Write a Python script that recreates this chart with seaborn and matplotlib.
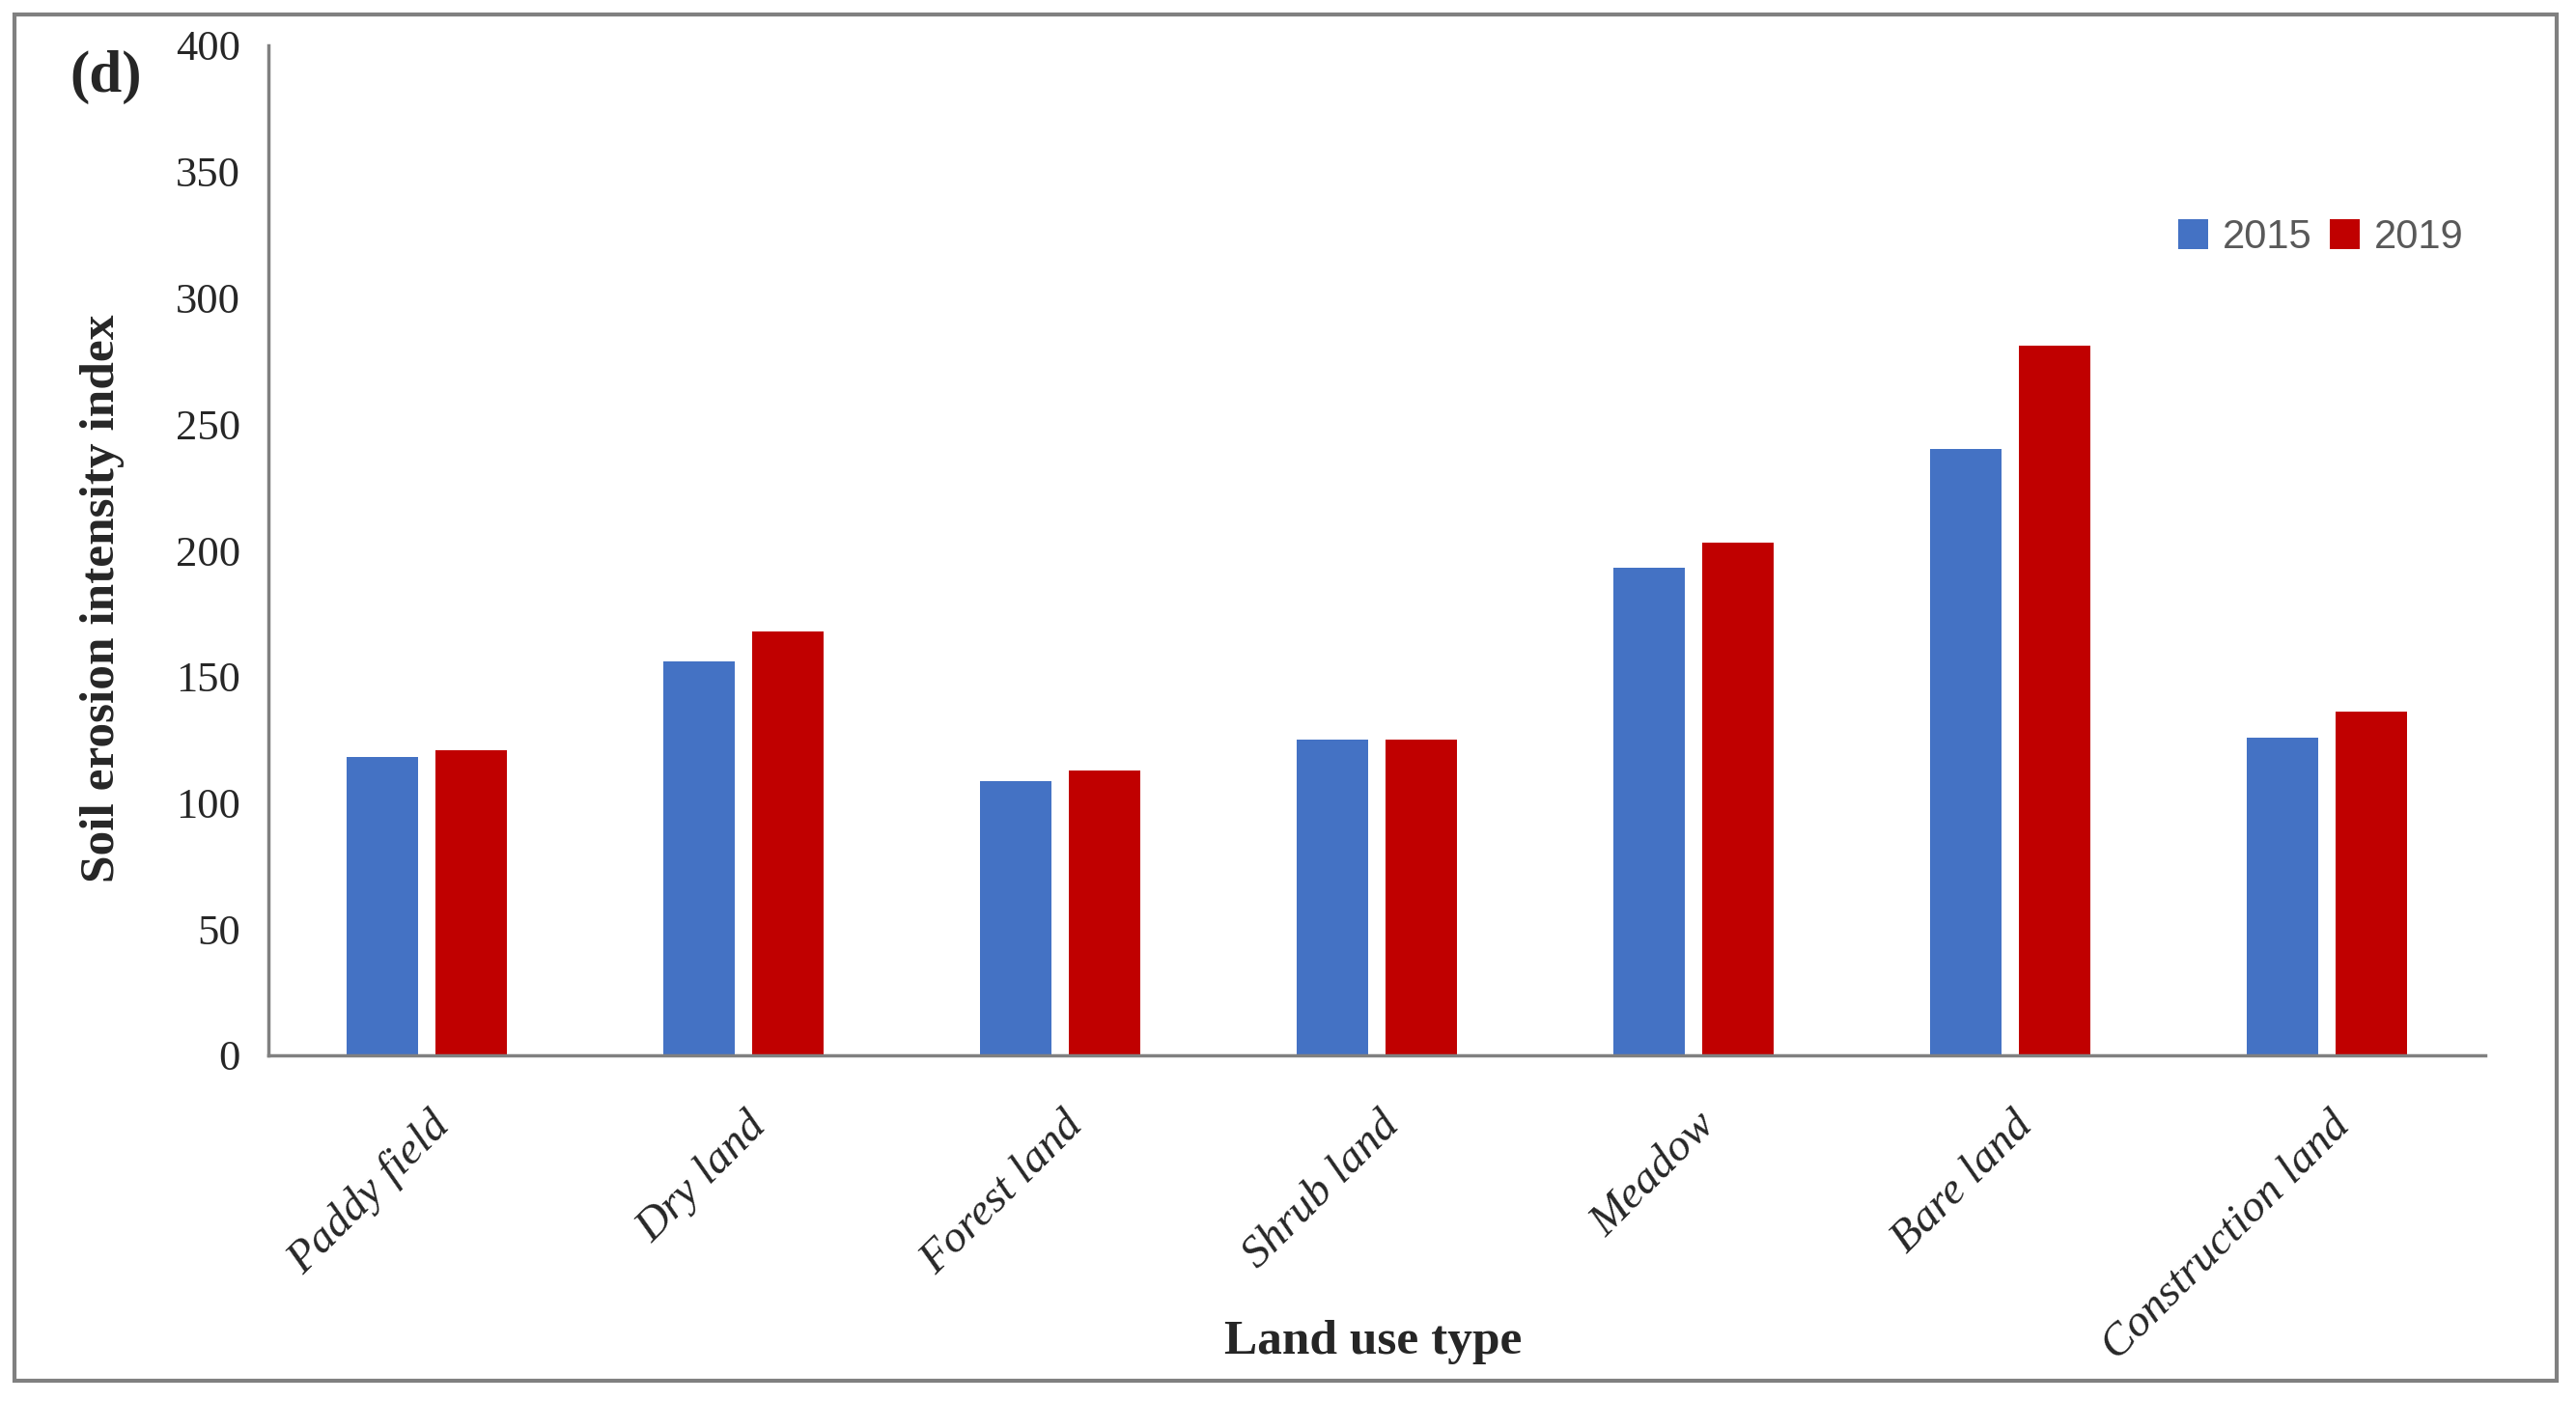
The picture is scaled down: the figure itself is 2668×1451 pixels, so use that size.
import pandas as pd
import numpy as np
import matplotlib
matplotlib.use("Agg")
import matplotlib.pyplot as plt
import matplotlib.transforms as mtransforms
from matplotlib.patches import Patch, Rectangle
import seaborn as sns

# values
land_types = ["Paddy field", "Dry land", "Forest land", "Shrub land",
              "Meadow", "Bare land", "Construction land"]
years = ["2015", "2019"]
values_2015 = [118, 156, 108.5, 125, 193, 240, 126]
values_2019 = [121, 168, 113, 125, 203, 281, 136]
y_ticks = list(range(0, 401, 50))
colors = ["#4472C4", "#C00000"]

df = pd.DataFrame({
    "land": land_types * 2,
    "year": [years[0]] * len(land_types) + [years[1]] * len(land_types),
    "value": values_2015 + values_2019,
})

sns.set_style("white")
plt.rcParams["font.family"] = ["Liberation Serif", "DejaVu Serif"]

W, H = 2668, 1451
fig = plt.figure(figsize=(W / 100, H / 100), dpi=100)
ax = fig.add_axes([278 / W, 1 - 1093 / H, (2574 - 278) / W, (1093 - 47) / H])

sns.barplot(data=df, x="land", y="value", hue="year", palette=colors,
            width=0.56, gap=0.2, saturation=1, legend=False, ax=ax,
            edgecolor="none")

ax.set_xlim(-0.5, len(land_types) - 0.5)
ax.set_ylim(0, 400)
ax.set_yticks(y_ticks)
ax.set_xlabel("")
ax.set_ylabel("")

grey = "#808080"
for side in ["top", "right"]:
    ax.spines[side].set_visible(False)
for side in ["left", "bottom"]:
    ax.spines[side].set_color(grey)
    ax.spines[side].set_linewidth(2.5)

# separators between categories
ax.set_xticks(np.arange(-0.5, len(land_types), 1.0), minor=True)
ax.tick_params(axis="x", which="minor", length=14.5, width=2.4, color=grey, direction="out")
ax.tick_params(axis="x", which="major", length=0, pad=37)
ax.tick_params(axis="y", length=13, width=2.4, color=grey, pad=8, labelsize=32)

ax.set_xticks(range(len(land_types)))
ax.set_xticklabels(land_types, rotation=45, ha="right", rotation_mode="anchor",
                   fontstyle="italic", fontsize=34)
shift = mtransforms.ScaledTranslation(0.02, 0, fig.dpi_scale_trans)
for lbl in ax.get_xticklabels():
    lbl.set_transform(lbl.get_transform() + shift)

fig.text(106 / W, 1 - 620 / H, "Soil erosion intensity index", rotation=90,
         ha="center", va="center", fontsize=37, fontweight="bold")
fig.text(1422 / W, 1 - 1402 / H, "Land use type", ha="center", va="baseline",
         fontsize=37, fontweight="bold")
fig.text(110 / W, 1 - 80 / H, "(d)", ha="center", va="center",
         fontsize=44, fontweight="bold")

handles = [Patch(facecolor=c, edgecolor="none", label=y) for c, y in zip(colors, years)]
fig.legend(handles=handles, loc="center", bbox_to_anchor=(2404 / W, 1 - 246 / H),
           ncol=2, frameon=False, prop={"family": "Liberation Sans", "size": 30},
           labelcolor="#595959", handlelength=0.75, handleheight=0.75,
           handletextpad=0.36, columnspacing=0.43, borderpad=0, borderaxespad=0)

fig.add_artist(Rectangle((15 / W, 1 - 1430 / H), (2648 - 15) / W, (1430 - 15) / H,
                         transform=fig.transFigure, fill=False,
                         edgecolor=grey, linewidth=3))

fig.savefig("out.png", dpi=100)
